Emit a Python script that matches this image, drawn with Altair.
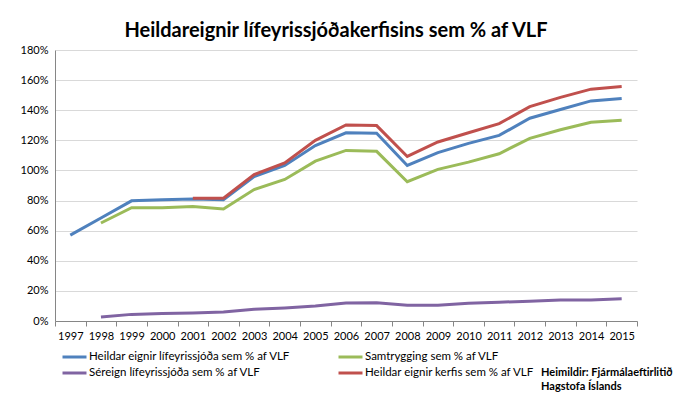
import altair as alt
import pandas as pd

years = list(range(1997, 2016))

blue = [57.0, 68.4, 79.8, 80.5, 81.0, 80.5, 96.0, 103.3, 116.5, 125.0, 124.7, 103.3, 111.8, 118.0, 123.3, 134.7, 140.5, 146.2, 147.8]
green = [None, 65.1, 75.3, 75.3, 76.0, 74.4, 87.3, 94.0, 106.2, 113.3, 112.7, 92.5, 100.7, 105.5, 111.1, 121.3, 127.0, 132.0, 133.3]
purple = [None, 2.7, 4.4, 5.0, 5.3, 6.0, 7.8, 8.7, 10.0, 12.0, 12.2, 10.4, 10.4, 11.8, 12.5, 13.2, 14.0, 14.0, 14.7]
red = [None, None, None, None, 81.5, 81.5, 97.3, 105.0, 120.0, 130.2, 129.8, 109.3, 118.9, 125.0, 131.1, 142.4, 148.5, 154.0, 155.8]

# legend order (filled column by column): col 1 = blue, purple; col 2 = green, red
series_names = [
    "Heildar eignir lífeyrissjóða sem % af VLF",
    "Séreign lífeyrissjóða sem % af VLF",
    "Samtrygging sem % af VLF",
    "Heildar eignir kerfis sem % af VLF",
]
series_values = [blue, purple, green, red]
colors = ["#4F81BD", "#8064A2", "#9BBB59", "#C0504D"]

source_lines = ["Heimildir: Fjármálaeftirlitið", "Hagstofa Íslands"]
title_text = "Heildareignir lífeyrissjóðakerfisins sem % af VLF"

rows = []
for name, vals in zip(series_names, series_values):
    for y, v in zip(years, vals):
        if v is not None:
            rows.append({"year": str(y), "series": name, "value": v / 100.0})
df = pd.DataFrame(rows)

FONT = "Lato"

lines = alt.Chart(df).mark_line(strokeWidth=3).encode(
    x=alt.X(
        "year:O",
        scale=alt.Scale(type="band", paddingInner=0, paddingOuter=0, domain=[str(y) for y in years]),
        bandPosition=0.5,
        axis=alt.Axis(
            title=None,
            tickBand="extent",
            labelAngle=0,
            labelFontSize=11,
            labelColor="#000000",
            labelPadding=4,
            domainColor="#868686",
            tickColor="#868686",
            tickSize=5,
            grid=False,
        ),
    ),
    y=alt.Y(
        "value:Q",
        scale=alt.Scale(domain=[0, 1.8], nice=False),
        axis=alt.Axis(
            title=None,
            format=".0%",
            values=[i / 10 for i in range(0, 19, 2)],
            labelFontSize=11,
            labelColor="#000000",
            labelPadding=7,
            ticks=False,
            domainColor="#868686",
            gridColor="#d9d9d9",
        ),
    ),
    color=alt.Color(
        "series:N",
        scale=alt.Scale(domain=series_names, range=colors),
        legend=alt.Legend(
            title=None,
            orient="none",
            legendX=10.5,
            legendY=298,
            columns=2,
            columnPadding=42,
            rowPadding=1,
            symbolType="M-1.6,0H1.6",
            symbolStrokeWidth=3,
            symbolSize=225,
            labelFontSize=11.5,
            labelColor="#000000",
            labelLimit=400,
            labelOffset=5.5,
        ),
    ),
    order=alt.Order("series:N"),
)

source = alt.Chart(pd.DataFrame({"t": source_lines, "i": [0, 1]})).mark_text(
    align="left", baseline="middle", fontSize=11, fontWeight="bold", font=FONT, color="#000000"
).encode(
    x=alt.value(486),
    y=alt.Y("i:O", scale=alt.Scale(type="point", range=[323, 337], padding=0), axis=None),
    text="t:N",
)

chart = alt.layer(lines, source).resolve_scale(y="independent").properties(
    width=582,
    height=271,
    autosize=alt.AutoSizeParams(type="none"),
    padding={"left": 47, "top": 42, "right": 41, "bottom": 77},
    title=alt.TitleParams(
        title_text,
        fontSize=20,
        fontWeight="bold",
        font=FONT,
        color="#000000",
        anchor="middle",
        dx=-10,
        offset=3,
    ),
).configure(font=FONT).configure_view(stroke=None)

chart.save("out.html", embed_options={"renderer": "svg", "actions": False})
